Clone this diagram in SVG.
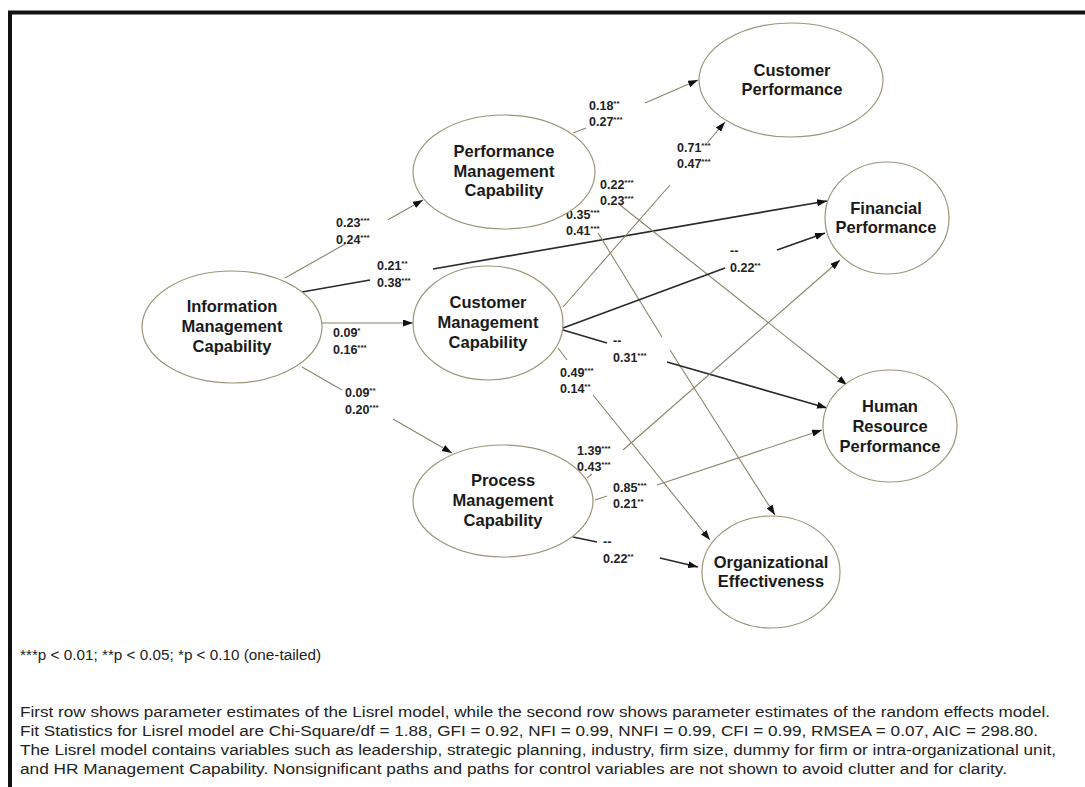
<svg xmlns="http://www.w3.org/2000/svg" width="1085" height="787" viewBox="0 0 1085 787">
<style>
.node ellipse{fill:#fff;stroke:#9c9578;stroke-width:1.2}
.node text{font-family:"Liberation Sans",Arial,sans-serif;font-weight:bold;font-size:16.5px;fill:#1a1a1a;text-anchor:middle}
.thin{fill:none;stroke:#8a8468;stroke-width:1.1}
.thick{fill:none;stroke:#2a2a2a;stroke-width:1.7}
.lbl{font-family:"Liberation Sans",Arial,sans-serif;font-weight:bold;font-size:12.5px;fill:#222}
.sup{font-size:8px}
.note{font-family:"Liberation Sans",Arial,sans-serif;font-size:14px;fill:#222}
</style>
<defs>
<marker id="ah" markerUnits="userSpaceOnUse" markerWidth="11" markerHeight="8" refX="10" refY="3.5" orient="auto">
<path d="M0,0 L10,3.5 L0,7 z" fill="#111"/>
</marker>
</defs>
<rect x="0" y="0" width="1085" height="787" fill="#fff"/>
<g id="frame">
<line x1="8" y1="12.5" x2="1085" y2="12.5" stroke="#111" stroke-width="4"/>
<line x1="10" y1="11" x2="10" y2="787" stroke="#111" stroke-width="4"/>
</g>
<g id="connectors">
<path class="thin" d="M285,278 L346,243.5 M388,219.8 L423,200" marker-end="url(#ah)"/>
<path class="thick" d="M302,292 L370,280 M433,269 L827,201" marker-end="url(#ah)"/>
<path class="thin" d="M322,323 L413,323" marker-end="url(#ah)"/>
<path class="thin" d="M302,367 L342,390 M393,419 L452,453" marker-end="url(#ah)"/>
<path class="thin" d="M573,133 L586,128 M645,103 L698,80" marker-end="url(#ah)"/>
<path class="thin" d="M563,307 L670,185 M707,143 L725,122" marker-end="url(#ah)"/>
<path class="thin" d="M620,205 L847,385" marker-end="url(#ah)"/>
<path class="thin" d="M598,233 L662,337 M670,350 L775,515" marker-end="url(#ah)"/>
<path class="thick" d="M563,328 L725,268 M777,250 L825,233" marker-end="url(#ah)"/>
<path class="thick" d="M563,330 L607,343 M667,362 L827,408" marker-end="url(#ah)"/>
<path class="thin" d="M558,348 L567,360 M593,395 L710,540" marker-end="url(#ah)"/>
<path class="thin" d="M587,478 L592,474 M623,450 L840,260" marker-end="url(#ah)"/>
<path class="thin" d="M595,500 L607,496 M657,485 L822,430" marker-end="url(#ah)"/>
<path class="thick" d="M573,537 L597,542 M660,558 L698,567" marker-end="url(#ah)"/>
</g>
<g id="labels">
<text class="lbl" x="336" y="227">0.23<tspan class="sup" dy="-4">***</tspan></text>
<text class="lbl" x="336" y="244">0.24<tspan class="sup" dy="-4">***</tspan></text>
<text class="lbl" x="377" y="270">0.21<tspan class="sup" dy="-4">**</tspan></text>
<text class="lbl" x="377" y="287">0.38<tspan class="sup" dy="-4">***</tspan></text>
<text class="lbl" x="333" y="337">0.09<tspan class="sup" dy="-4">*</tspan></text>
<text class="lbl" x="333" y="354">0.16<tspan class="sup" dy="-4">***</tspan></text>
<text class="lbl" x="345" y="397">0.09<tspan class="sup" dy="-4">**</tspan></text>
<text class="lbl" x="345" y="414">0.20<tspan class="sup" dy="-4">***</tspan></text>
<text class="lbl" x="589" y="110">0.18<tspan class="sup" dy="-4">**</tspan></text>
<text class="lbl" x="589" y="126">0.27<tspan class="sup" dy="-4">***</tspan></text>
<text class="lbl" x="677" y="152">0.71<tspan class="sup" dy="-4">***</tspan></text>
<text class="lbl" x="677" y="168">0.47<tspan class="sup" dy="-4">***</tspan></text>
<text class="lbl" x="600" y="189">0.22<tspan class="sup" dy="-4">***</tspan></text>
<text class="lbl" x="600" y="205">0.23<tspan class="sup" dy="-4">***</tspan></text>
<text class="lbl" x="566" y="219">0.35<tspan class="sup" dy="-4">***</tspan></text>
<text class="lbl" x="566" y="235">0.41<tspan class="sup" dy="-4">***</tspan></text>
<text class="lbl" x="730" y="255">--</text>
<text class="lbl" x="730" y="272">0.22<tspan class="sup" dy="-4">**</tspan></text>
<text class="lbl" x="613" y="345">--</text>
<text class="lbl" x="613" y="362">0.31<tspan class="sup" dy="-4">***</tspan></text>
<text class="lbl" x="560" y="377">0.49<tspan class="sup" dy="-4">***</tspan></text>
<text class="lbl" x="560" y="393">0.14<tspan class="sup" dy="-4">**</tspan></text>
<text class="lbl" x="577" y="455">1.39<tspan class="sup" dy="-4">***</tspan></text>
<text class="lbl" x="577" y="471">0.43<tspan class="sup" dy="-4">***</tspan></text>
<text class="lbl" x="613" y="492">0.85<tspan class="sup" dy="-4">***</tspan></text>
<text class="lbl" x="613" y="508">0.21<tspan class="sup" dy="-4">**</tspan></text>
<text class="lbl" x="603" y="546">--</text>
<text class="lbl" x="603" y="563">0.22<tspan class="sup" dy="-4">**</tspan></text>
</g>
<g id="imc" class="node">
<ellipse cx="232" cy="327" rx="90" ry="56"/>
<text x="232" y="312">Information</text>
<text x="232" y="332">Management</text>
<text x="232" y="352">Capability</text>
</g>
<g id="pmc" class="node">
<ellipse cx="504" cy="172" rx="91" ry="57"/>
<text x="504" y="157">Performance</text>
<text x="504" y="177">Management</text>
<text x="504" y="196">Capability</text>
</g>
<g id="cmc" class="node">
<ellipse cx="488" cy="323" rx="75" ry="57"/>
<text x="488" y="308">Customer</text>
<text x="488" y="328">Management</text>
<text x="488" y="348">Capability</text>
</g>
<g id="prmc" class="node">
<ellipse cx="503" cy="501" rx="90" ry="56"/>
<text x="503" y="486">Process</text>
<text x="503" y="506">Management</text>
<text x="503" y="526">Capability</text>
</g>
<g id="cp" class="node">
<ellipse cx="791" cy="80" rx="92" ry="57"/>
<text x="792" y="76">Customer</text>
<text x="792" y="95">Performance</text>
</g>
<g id="fp" class="node">
<ellipse cx="887" cy="218" rx="62" ry="56"/>
<text x="886" y="214">Financial</text>
<text x="886" y="233">Performance</text>
</g>
<g id="hrp" class="node">
<ellipse cx="890" cy="426" rx="67" ry="56"/>
<text x="890" y="412">Human</text>
<text x="890" y="432">Resource</text>
<text x="890" y="452">Performance</text>
</g>
<g id="oe" class="node">
<ellipse cx="771" cy="572" rx="69" ry="56"/>
<text x="771" y="568">Organizational</text>
<text x="771" y="587">Effectiveness</text>
</g>
<g id="notes">
<text class="note" x="20" y="660" textLength="301" lengthAdjust="spacingAndGlyphs">***p &lt; 0.01; **p &lt; 0.05; *p &lt; 0.10 (one-tailed)</text>
<text class="note" x="20" y="717" textLength="1030" lengthAdjust="spacingAndGlyphs">First row shows parameter estimates of the Lisrel model, while the second row shows parameter estimates of the random effects model.</text>
<text class="note" x="20" y="736" textLength="1018" lengthAdjust="spacingAndGlyphs">Fit Statistics for Lisrel model are Chi-Square/df = 1.88, GFI = 0.92, NFI = 0.99, NNFI = 0.99, CFI = 0.99, RMSEA = 0.07, AIC = 298.80.</text>
<text class="note" x="20" y="755" textLength="1036" lengthAdjust="spacingAndGlyphs">The Lisrel model contains variables such as leadership, strategic planning, industry, firm size, dummy for firm or intra-organizational unit,</text>
<text class="note" x="20" y="774" textLength="987" lengthAdjust="spacingAndGlyphs">and HR Management Capability.  Nonsignificant paths and paths for control variables are not shown to avoid clutter and for clarity.</text>
</g>
</svg>
